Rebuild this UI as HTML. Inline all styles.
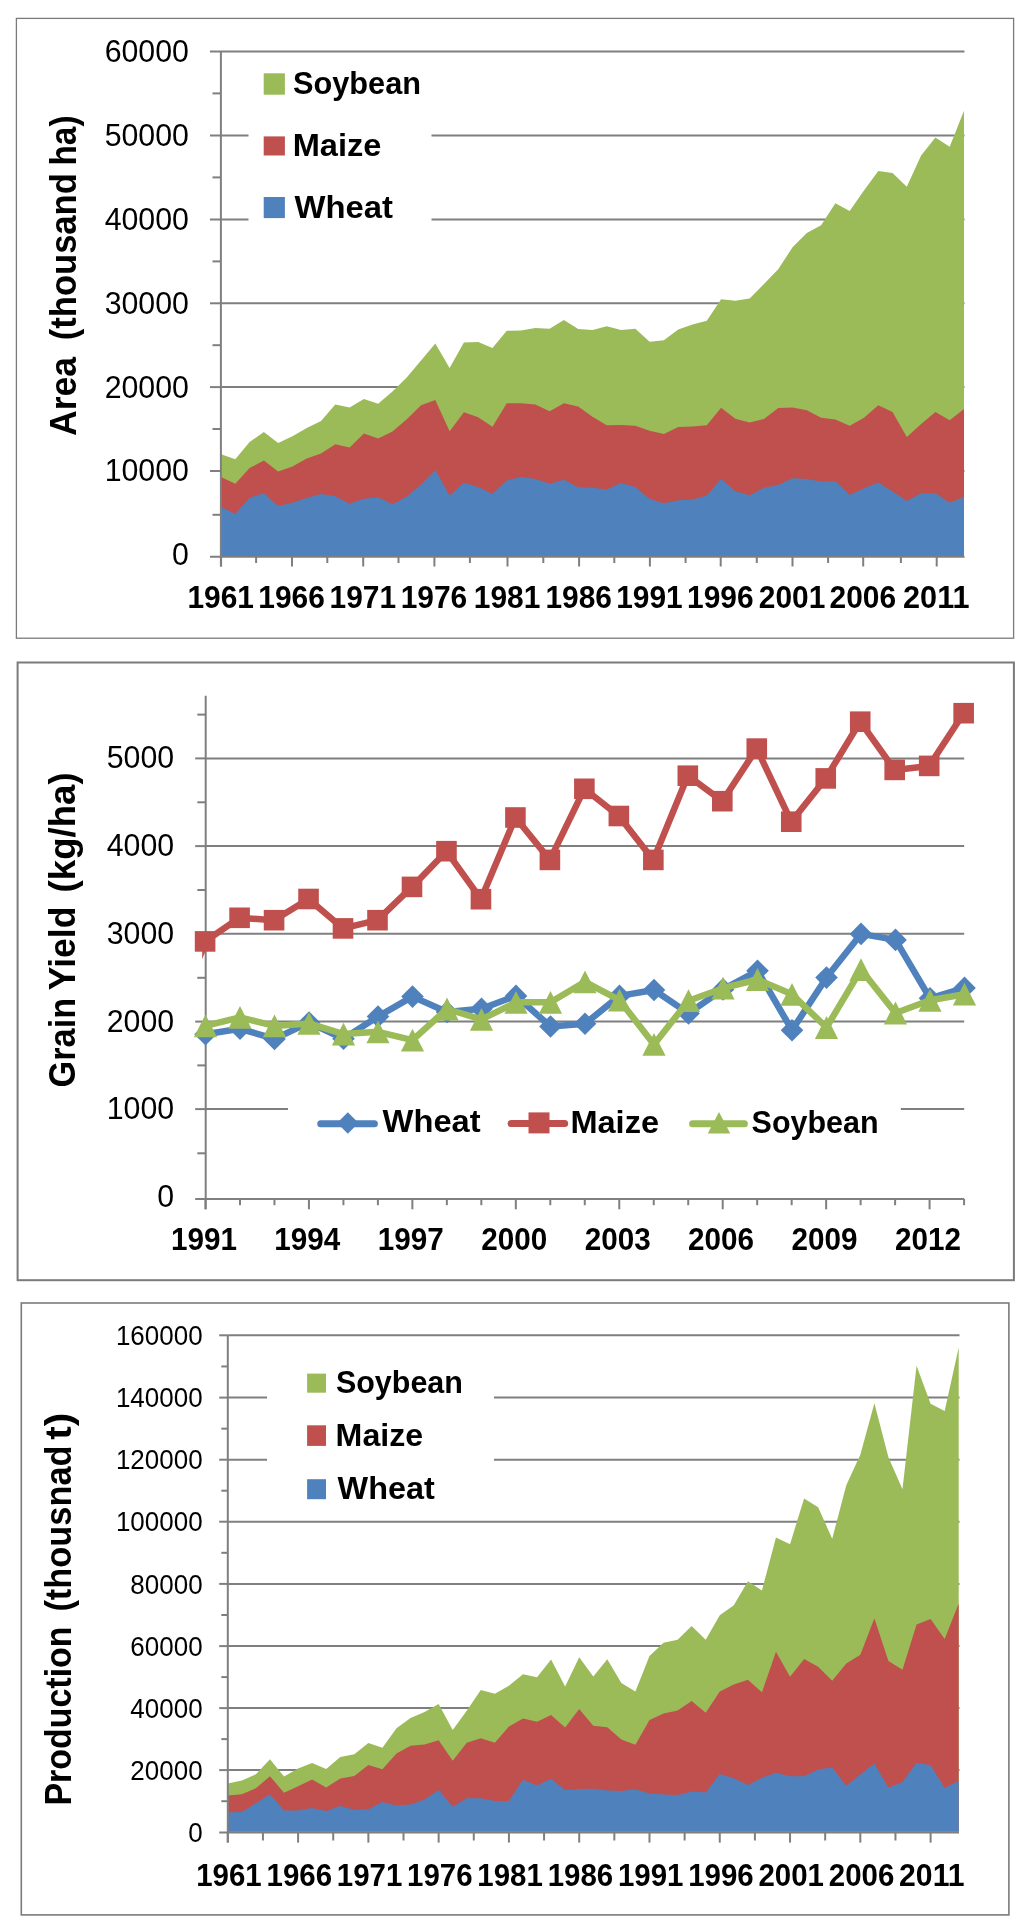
<!DOCTYPE html><html><head><meta charset="utf-8"><style>html,body{margin:0;padding:0;background:#fff;width:1024px;height:1928px;overflow:hidden}svg{display:block;will-change:transform}text{font-family:"Liberation Sans",sans-serif;fill:#000}</style></head><body>
<svg width="1024" height="1928" viewBox="0 0 1024 1928">
<rect x="0" y="0" width="1024" height="1928" fill="#fff"/>
<rect x="16.4" y="18.4" width="997.2" height="619.8" fill="none" stroke="#7b7b7b" stroke-width="1.3"/>
<line x1="221" y1="51.5" x2="964.5" y2="51.5" stroke="#7f7f7f" stroke-width="2" stroke-linecap="butt"/>
<line x1="221" y1="135.5" x2="964.5" y2="135.5" stroke="#7f7f7f" stroke-width="2" stroke-linecap="butt"/>
<line x1="221" y1="219.5" x2="964.5" y2="219.5" stroke="#7f7f7f" stroke-width="2" stroke-linecap="butt"/>
<line x1="221" y1="303.3" x2="964.5" y2="303.3" stroke="#7f7f7f" stroke-width="2" stroke-linecap="butt"/>
<line x1="221" y1="387.1" x2="964.5" y2="387.1" stroke="#7f7f7f" stroke-width="2" stroke-linecap="butt"/>
<line x1="221" y1="471" x2="964.5" y2="471" stroke="#7f7f7f" stroke-width="2" stroke-linecap="butt"/>
<rect x="248.5" y="60" width="183" height="172" fill="#fff"/>
<polygon fill="#9BBB59" points="221,556 221,454.2 235.29,459.2 249.58,442 263.86,432 278.15,443 292.44,436.2 306.73,428 321.02,420.9 335.3,404.5 349.59,407.6 363.88,398.9 378.17,403.8 392.46,391.5 406.74,377.5 421.03,360.5 435.32,343.5 449.61,367.9 463.9,342.5 478.18,341.9 492.47,348 506.76,330.7 521.05,330.5 535.34,327.9 549.62,328.8 563.91,320.1 578.2,329 592.49,329.9 606.78,326.2 621.06,330.1 635.35,328.7 649.64,341.7 663.93,340.2 678.22,329.5 692.5,324.6 706.79,320.8 721.08,299.3 735.37,300.7 749.66,298.6 763.94,284 778.23,269.2 792.52,247.3 806.81,232.9 821.1,225.3 835.38,203.3 849.67,210.9 863.96,190.5 878.25,171 892.54,173 906.82,186.7 921.11,155.6 935.4,137.4 949.69,146.8 963.98,110.8 963.98,556"/>
<polygon fill="#C0504D" points="221,556 221,476.9 235.29,483.7 249.58,468.1 263.86,460.5 278.15,471.6 292.44,466.5 306.73,458.5 321.02,453.4 335.3,444.3 349.59,447.5 363.88,433.4 378.17,438.4 392.46,431.6 406.74,419.3 421.03,405.2 435.32,400 449.61,431.3 463.9,412.2 478.18,417.3 492.47,426.8 506.76,403.3 521.05,403.3 535.34,404.6 549.62,411.2 563.91,403.3 578.2,406.4 592.49,416.7 606.78,425.3 621.06,424.9 635.35,425.8 649.64,430.7 663.93,434 678.22,426.9 692.5,426.6 706.79,425.3 721.08,407.8 735.37,418.7 749.66,422.5 763.94,419 778.23,408 792.52,407.5 806.81,410.2 821.1,417.8 835.38,419.5 849.67,425.7 863.96,417.8 878.25,405.2 892.54,411.9 906.82,436.9 921.11,424 935.4,412 949.69,420.3 963.98,409.1 963.98,556"/>
<polygon fill="#4F81BD" points="221,556 221,506.8 235.29,514.1 249.58,497.7 263.86,493.3 278.15,505.9 292.44,502.7 306.73,498 321.02,493.9 335.3,496.2 349.59,503.7 363.88,498.7 378.17,497.3 392.46,504.3 406.74,496.7 421.03,484.4 435.32,470.1 449.61,495.6 463.9,482.7 478.18,487.1 492.47,494.1 506.76,480.4 521.05,477 535.34,478.9 549.62,483.8 563.91,479.8 578.2,487.3 592.49,487.8 606.78,489.5 621.06,483 635.35,487.1 649.64,499.1 663.93,503.2 678.22,500.3 692.5,499.4 706.79,495.6 721.08,478.9 735.37,491.2 749.66,495.3 763.94,487.8 778.23,485 792.52,478.2 806.81,479.1 821.1,481.6 835.38,481.3 849.67,494.9 863.96,488.2 878.25,482.6 892.54,491.6 906.82,500.9 921.11,493.2 935.4,493.2 949.69,502.8 963.98,497 963.98,556"/>
<line x1="220.9" y1="51.5" x2="220.9" y2="566.5" stroke="#7f7f7f" stroke-width="2" stroke-linecap="butt"/>
<line x1="210" y1="556.8" x2="964.5" y2="556.8" stroke="#7f7f7f" stroke-width="2" stroke-linecap="butt"/>
<line x1="210" y1="51.5" x2="221" y2="51.5" stroke="#7f7f7f" stroke-width="2" stroke-linecap="butt"/>
<line x1="210" y1="135.5" x2="221" y2="135.5" stroke="#7f7f7f" stroke-width="2" stroke-linecap="butt"/>
<line x1="210" y1="219.5" x2="221" y2="219.5" stroke="#7f7f7f" stroke-width="2" stroke-linecap="butt"/>
<line x1="210" y1="303.3" x2="221" y2="303.3" stroke="#7f7f7f" stroke-width="2" stroke-linecap="butt"/>
<line x1="210" y1="387.1" x2="221" y2="387.1" stroke="#7f7f7f" stroke-width="2" stroke-linecap="butt"/>
<line x1="210" y1="471" x2="221" y2="471" stroke="#7f7f7f" stroke-width="2" stroke-linecap="butt"/>
<line x1="212.5" y1="93.4" x2="221" y2="93.4" stroke="#7f7f7f" stroke-width="2" stroke-linecap="butt"/>
<line x1="212.5" y1="177.4" x2="221" y2="177.4" stroke="#7f7f7f" stroke-width="2" stroke-linecap="butt"/>
<line x1="212.5" y1="261.4" x2="221" y2="261.4" stroke="#7f7f7f" stroke-width="2" stroke-linecap="butt"/>
<line x1="212.5" y1="345.2" x2="221" y2="345.2" stroke="#7f7f7f" stroke-width="2" stroke-linecap="butt"/>
<line x1="212.5" y1="429" x2="221" y2="429" stroke="#7f7f7f" stroke-width="2" stroke-linecap="butt"/>
<line x1="212.5" y1="514.8" x2="221" y2="514.8" stroke="#7f7f7f" stroke-width="2" stroke-linecap="butt"/>
<line x1="221.1" y1="556.8" x2="221.1" y2="566.5" stroke="#7f7f7f" stroke-width="2" stroke-linecap="butt"/>
<line x1="256.1" y1="556.8" x2="256.1" y2="563" stroke="#7f7f7f" stroke-width="2" stroke-linecap="butt"/>
<line x1="292" y1="556.8" x2="292" y2="566.5" stroke="#7f7f7f" stroke-width="2" stroke-linecap="butt"/>
<line x1="327.3" y1="556.8" x2="327.3" y2="563" stroke="#7f7f7f" stroke-width="2" stroke-linecap="butt"/>
<line x1="363.2" y1="556.8" x2="363.2" y2="566.5" stroke="#7f7f7f" stroke-width="2" stroke-linecap="butt"/>
<line x1="398.5" y1="556.8" x2="398.5" y2="563" stroke="#7f7f7f" stroke-width="2" stroke-linecap="butt"/>
<line x1="434.4" y1="556.8" x2="434.4" y2="566.5" stroke="#7f7f7f" stroke-width="2" stroke-linecap="butt"/>
<line x1="469.9" y1="556.8" x2="469.9" y2="563" stroke="#7f7f7f" stroke-width="2" stroke-linecap="butt"/>
<line x1="507.5" y1="556.8" x2="507.5" y2="566.5" stroke="#7f7f7f" stroke-width="2" stroke-linecap="butt"/>
<line x1="543.3" y1="556.8" x2="543.3" y2="563" stroke="#7f7f7f" stroke-width="2" stroke-linecap="butt"/>
<line x1="579.1" y1="556.8" x2="579.1" y2="566.5" stroke="#7f7f7f" stroke-width="2" stroke-linecap="butt"/>
<line x1="614.3" y1="556.8" x2="614.3" y2="563" stroke="#7f7f7f" stroke-width="2" stroke-linecap="butt"/>
<line x1="649.9" y1="556.8" x2="649.9" y2="566.5" stroke="#7f7f7f" stroke-width="2" stroke-linecap="butt"/>
<line x1="685.6" y1="556.8" x2="685.6" y2="563" stroke="#7f7f7f" stroke-width="2" stroke-linecap="butt"/>
<line x1="720.7" y1="556.8" x2="720.7" y2="566.5" stroke="#7f7f7f" stroke-width="2" stroke-linecap="butt"/>
<line x1="756.8" y1="556.8" x2="756.8" y2="563" stroke="#7f7f7f" stroke-width="2" stroke-linecap="butt"/>
<line x1="792.5" y1="556.8" x2="792.5" y2="566.5" stroke="#7f7f7f" stroke-width="2" stroke-linecap="butt"/>
<line x1="828.1" y1="556.8" x2="828.1" y2="563" stroke="#7f7f7f" stroke-width="2" stroke-linecap="butt"/>
<line x1="863.2" y1="556.8" x2="863.2" y2="566.5" stroke="#7f7f7f" stroke-width="2" stroke-linecap="butt"/>
<line x1="900.9" y1="556.8" x2="900.9" y2="563" stroke="#7f7f7f" stroke-width="2" stroke-linecap="butt"/>
<line x1="936.7" y1="556.8" x2="936.7" y2="566.5" stroke="#7f7f7f" stroke-width="2" stroke-linecap="butt"/>
<text x="188.9" y="62.1" font-size="31.5" text-anchor="end" textLength="84.25" lengthAdjust="spacingAndGlyphs">60000</text>
<text x="188.9" y="145.96" font-size="31.5" text-anchor="end" textLength="84.25" lengthAdjust="spacingAndGlyphs">50000</text>
<text x="188.9" y="229.82" font-size="31.5" text-anchor="end" textLength="84.25" lengthAdjust="spacingAndGlyphs">40000</text>
<text x="188.9" y="313.68" font-size="31.5" text-anchor="end" textLength="84.25" lengthAdjust="spacingAndGlyphs">30000</text>
<text x="188.9" y="397.54" font-size="31.5" text-anchor="end" textLength="84.25" lengthAdjust="spacingAndGlyphs">20000</text>
<text x="188.9" y="481.4" font-size="31.5" text-anchor="end" textLength="84.25" lengthAdjust="spacingAndGlyphs">10000</text>
<text x="188.9" y="565.26" font-size="31.5" text-anchor="end" textLength="16.85" lengthAdjust="spacingAndGlyphs">0</text>
<text x="220.7" y="608.4" font-size="31.5" font-weight="bold" text-anchor="middle" textLength="66.5" lengthAdjust="spacingAndGlyphs">1961</text>
<text x="291.6" y="608.4" font-size="31.5" font-weight="bold" text-anchor="middle" textLength="66.5" lengthAdjust="spacingAndGlyphs">1966</text>
<text x="362.8" y="608.4" font-size="31.5" font-weight="bold" text-anchor="middle" textLength="66.5" lengthAdjust="spacingAndGlyphs">1971</text>
<text x="434" y="608.4" font-size="31.5" font-weight="bold" text-anchor="middle" textLength="66.5" lengthAdjust="spacingAndGlyphs">1976</text>
<text x="507.1" y="608.4" font-size="31.5" font-weight="bold" text-anchor="middle" textLength="66.5" lengthAdjust="spacingAndGlyphs">1981</text>
<text x="578.7" y="608.4" font-size="31.5" font-weight="bold" text-anchor="middle" textLength="66.5" lengthAdjust="spacingAndGlyphs">1986</text>
<text x="649.5" y="608.4" font-size="31.5" font-weight="bold" text-anchor="middle" textLength="66.5" lengthAdjust="spacingAndGlyphs">1991</text>
<text x="720.3" y="608.4" font-size="31.5" font-weight="bold" text-anchor="middle" textLength="66.5" lengthAdjust="spacingAndGlyphs">1996</text>
<text x="792.1" y="608.4" font-size="31.5" font-weight="bold" text-anchor="middle" textLength="66.5" lengthAdjust="spacingAndGlyphs">2001</text>
<text x="862.8" y="608.4" font-size="31.5" font-weight="bold" text-anchor="middle" textLength="66.5" lengthAdjust="spacingAndGlyphs">2006</text>
<text x="936.3" y="608.4" font-size="31.5" font-weight="bold" text-anchor="middle" textLength="66.5" lengthAdjust="spacingAndGlyphs">2011</text>
<text transform="translate(76,436) rotate(-90)" x="0" y="0" font-size="36.5" font-weight="bold" textLength="79" lengthAdjust="spacingAndGlyphs">Area</text>
<text transform="translate(76,340.2) rotate(-90)" x="0" y="0" font-size="36.5" font-weight="bold" textLength="167" lengthAdjust="spacingAndGlyphs">(thousand</text>
<text transform="translate(76,165.5) rotate(-90)" x="0" y="0" font-size="36.5" font-weight="bold" textLength="50" lengthAdjust="spacingAndGlyphs">ha)</text>
<rect x="263.7" y="73.3" width="21.2" height="21.4" fill="#9BBB59"/>
<text x="293" y="94.1" font-size="32" font-weight="bold" text-anchor="start" textLength="128" lengthAdjust="spacingAndGlyphs">Soybean</text>
<rect x="263.7" y="136.4" width="21.2" height="19.1" fill="#C0504D"/>
<text x="292.7" y="155.6" font-size="32" font-weight="bold" text-anchor="start" textLength="88.8" lengthAdjust="spacingAndGlyphs">Maize</text>
<rect x="263.7" y="197" width="21.2" height="21.1" fill="#4F81BD"/>
<text x="294.5" y="217.5" font-size="32" font-weight="bold" text-anchor="start" textLength="98.4" lengthAdjust="spacingAndGlyphs">Wheat</text>
<rect x="17.6" y="662.5" width="996.3" height="617.7" fill="none" stroke="#7b7b7b" stroke-width="2"/>
<line x1="205.7" y1="758.4" x2="964.2" y2="758.4" stroke="#7f7f7f" stroke-width="2" stroke-linecap="butt"/>
<line x1="205.7" y1="846.1" x2="964.2" y2="846.1" stroke="#7f7f7f" stroke-width="2" stroke-linecap="butt"/>
<line x1="205.7" y1="933.8" x2="964.2" y2="933.8" stroke="#7f7f7f" stroke-width="2" stroke-linecap="butt"/>
<line x1="205.7" y1="1021.6" x2="964.2" y2="1021.6" stroke="#7f7f7f" stroke-width="2" stroke-linecap="butt"/>
<line x1="205.7" y1="1109.1" x2="964.2" y2="1109.1" stroke="#7f7f7f" stroke-width="2" stroke-linecap="butt"/>
<rect x="288" y="1098" width="612.8" height="50" fill="#fff"/>
<line x1="205.7" y1="695.8" x2="205.7" y2="1209.3" stroke="#7f7f7f" stroke-width="2" stroke-linecap="butt"/>
<line x1="195.2" y1="1199" x2="964.2" y2="1199" stroke="#7f7f7f" stroke-width="2" stroke-linecap="butt"/>
<line x1="195.2" y1="758.4" x2="205.7" y2="758.4" stroke="#7f7f7f" stroke-width="2" stroke-linecap="butt"/>
<line x1="195.2" y1="846.1" x2="205.7" y2="846.1" stroke="#7f7f7f" stroke-width="2" stroke-linecap="butt"/>
<line x1="195.2" y1="933.8" x2="205.7" y2="933.8" stroke="#7f7f7f" stroke-width="2" stroke-linecap="butt"/>
<line x1="195.2" y1="1021.6" x2="205.7" y2="1021.6" stroke="#7f7f7f" stroke-width="2" stroke-linecap="butt"/>
<line x1="195.2" y1="1109.1" x2="205.7" y2="1109.1" stroke="#7f7f7f" stroke-width="2" stroke-linecap="butt"/>
<line x1="197.3" y1="714.6" x2="205.7" y2="714.6" stroke="#7f7f7f" stroke-width="2" stroke-linecap="butt"/>
<line x1="197.3" y1="802.3" x2="205.7" y2="802.3" stroke="#7f7f7f" stroke-width="2" stroke-linecap="butt"/>
<line x1="197.3" y1="890" x2="205.7" y2="890" stroke="#7f7f7f" stroke-width="2" stroke-linecap="butt"/>
<line x1="197.3" y1="977.8" x2="205.7" y2="977.8" stroke="#7f7f7f" stroke-width="2" stroke-linecap="butt"/>
<line x1="197.3" y1="1065.4" x2="205.7" y2="1065.4" stroke="#7f7f7f" stroke-width="2" stroke-linecap="butt"/>
<line x1="197.3" y1="1153.3" x2="205.7" y2="1153.3" stroke="#7f7f7f" stroke-width="2" stroke-linecap="butt"/>
<line x1="205.5" y1="1199" x2="205.5" y2="1209.3" stroke="#7f7f7f" stroke-width="2" stroke-linecap="butt"/>
<line x1="239.98" y1="1199" x2="239.98" y2="1205.2" stroke="#7f7f7f" stroke-width="2" stroke-linecap="butt"/>
<line x1="274.46" y1="1199" x2="274.46" y2="1205.2" stroke="#7f7f7f" stroke-width="2" stroke-linecap="butt"/>
<line x1="308.94" y1="1199" x2="308.94" y2="1209.3" stroke="#7f7f7f" stroke-width="2" stroke-linecap="butt"/>
<line x1="343.42" y1="1199" x2="343.42" y2="1205.2" stroke="#7f7f7f" stroke-width="2" stroke-linecap="butt"/>
<line x1="377.9" y1="1199" x2="377.9" y2="1205.2" stroke="#7f7f7f" stroke-width="2" stroke-linecap="butt"/>
<line x1="412.38" y1="1199" x2="412.38" y2="1209.3" stroke="#7f7f7f" stroke-width="2" stroke-linecap="butt"/>
<line x1="446.86" y1="1199" x2="446.86" y2="1205.2" stroke="#7f7f7f" stroke-width="2" stroke-linecap="butt"/>
<line x1="481.34" y1="1199" x2="481.34" y2="1205.2" stroke="#7f7f7f" stroke-width="2" stroke-linecap="butt"/>
<line x1="515.82" y1="1199" x2="515.82" y2="1209.3" stroke="#7f7f7f" stroke-width="2" stroke-linecap="butt"/>
<line x1="550.3" y1="1199" x2="550.3" y2="1205.2" stroke="#7f7f7f" stroke-width="2" stroke-linecap="butt"/>
<line x1="584.78" y1="1199" x2="584.78" y2="1205.2" stroke="#7f7f7f" stroke-width="2" stroke-linecap="butt"/>
<line x1="619.26" y1="1199" x2="619.26" y2="1209.3" stroke="#7f7f7f" stroke-width="2" stroke-linecap="butt"/>
<line x1="653.74" y1="1199" x2="653.74" y2="1205.2" stroke="#7f7f7f" stroke-width="2" stroke-linecap="butt"/>
<line x1="688.22" y1="1199" x2="688.22" y2="1205.2" stroke="#7f7f7f" stroke-width="2" stroke-linecap="butt"/>
<line x1="722.7" y1="1199" x2="722.7" y2="1209.3" stroke="#7f7f7f" stroke-width="2" stroke-linecap="butt"/>
<line x1="757.18" y1="1199" x2="757.18" y2="1205.2" stroke="#7f7f7f" stroke-width="2" stroke-linecap="butt"/>
<line x1="791.66" y1="1199" x2="791.66" y2="1205.2" stroke="#7f7f7f" stroke-width="2" stroke-linecap="butt"/>
<line x1="826.14" y1="1199" x2="826.14" y2="1209.3" stroke="#7f7f7f" stroke-width="2" stroke-linecap="butt"/>
<line x1="860.62" y1="1199" x2="860.62" y2="1205.2" stroke="#7f7f7f" stroke-width="2" stroke-linecap="butt"/>
<line x1="895.1" y1="1199" x2="895.1" y2="1205.2" stroke="#7f7f7f" stroke-width="2" stroke-linecap="butt"/>
<line x1="929.58" y1="1199" x2="929.58" y2="1209.3" stroke="#7f7f7f" stroke-width="2" stroke-linecap="butt"/>
<line x1="964.06" y1="1199" x2="964.06" y2="1205.2" stroke="#7f7f7f" stroke-width="2" stroke-linecap="butt"/>
<text x="174.1" y="768.3" font-size="31.5" text-anchor="end" textLength="67.4" lengthAdjust="spacingAndGlyphs">5000</text>
<text x="174.1" y="856" font-size="31.5" text-anchor="end" textLength="67.4" lengthAdjust="spacingAndGlyphs">4000</text>
<text x="174.1" y="943.7" font-size="31.5" text-anchor="end" textLength="67.4" lengthAdjust="spacingAndGlyphs">3000</text>
<text x="174.1" y="1031.5" font-size="31.5" text-anchor="end" textLength="67.4" lengthAdjust="spacingAndGlyphs">2000</text>
<text x="174.1" y="1119" font-size="31.5" text-anchor="end" textLength="67.4" lengthAdjust="spacingAndGlyphs">1000</text>
<text x="174.1" y="1206.9" font-size="31.5" text-anchor="end" textLength="16.85" lengthAdjust="spacingAndGlyphs">0</text>
<text x="203.9" y="1250.3" font-size="31.5" font-weight="bold" text-anchor="middle" textLength="66" lengthAdjust="spacingAndGlyphs">1991</text>
<text x="307.34" y="1250.3" font-size="31.5" font-weight="bold" text-anchor="middle" textLength="66" lengthAdjust="spacingAndGlyphs">1994</text>
<text x="410.78" y="1250.3" font-size="31.5" font-weight="bold" text-anchor="middle" textLength="66" lengthAdjust="spacingAndGlyphs">1997</text>
<text x="514.22" y="1250.3" font-size="31.5" font-weight="bold" text-anchor="middle" textLength="66" lengthAdjust="spacingAndGlyphs">2000</text>
<text x="617.66" y="1250.3" font-size="31.5" font-weight="bold" text-anchor="middle" textLength="66" lengthAdjust="spacingAndGlyphs">2003</text>
<text x="721.1" y="1250.3" font-size="31.5" font-weight="bold" text-anchor="middle" textLength="66" lengthAdjust="spacingAndGlyphs">2006</text>
<text x="824.54" y="1250.3" font-size="31.5" font-weight="bold" text-anchor="middle" textLength="66" lengthAdjust="spacingAndGlyphs">2009</text>
<text x="927.98" y="1250.3" font-size="31.5" font-weight="bold" text-anchor="middle" textLength="66" lengthAdjust="spacingAndGlyphs">2012</text>
<text transform="translate(74.8,1087.4) rotate(-90)" x="0" y="0" font-size="36.5" font-weight="bold" textLength="89.5" lengthAdjust="spacingAndGlyphs">Grain</text>
<text transform="translate(74.8,990.2) rotate(-90)" x="0" y="0" font-size="36.5" font-weight="bold" textLength="83.6" lengthAdjust="spacingAndGlyphs">Yield</text>
<text transform="translate(74.8,892.4) rotate(-90)" x="0" y="0" font-size="36.5" font-weight="bold" textLength="120" lengthAdjust="spacingAndGlyphs">(kg/ha)</text>
<polyline points="205.5,1034.3 240,1028.8 274.5,1038.9 309,1022.6 343.5,1038.8 378,1016.5 412.5,996.6 447,1012 481.5,1008.8 516,995.9 550.5,1026.5 585,1023.8 619.5,995.9 654,990 688.5,1013.4 723,989.4 757.5,970.8 792,1030.2 826.5,977.6 861,933.9 895.5,939.9 930,998.3 964.5,987.9" fill="none" stroke="#4F81BD" stroke-width="6.5" stroke-linejoin="round" stroke-linecap="round"/>
<polygon fill="#4F81BD" points="205.5,1023 216.8,1034.3 205.5,1045.6 194.2,1034.3"/>
<polygon fill="#4F81BD" points="240,1017.5 251.3,1028.8 240,1040.1 228.7,1028.8"/>
<polygon fill="#4F81BD" points="274.5,1027.6 285.8,1038.9 274.5,1050.2 263.2,1038.9"/>
<polygon fill="#4F81BD" points="309,1011.3 320.3,1022.6 309,1033.9 297.7,1022.6"/>
<polygon fill="#4F81BD" points="343.5,1027.5 354.8,1038.8 343.5,1050.1 332.2,1038.8"/>
<polygon fill="#4F81BD" points="378,1005.2 389.3,1016.5 378,1027.8 366.7,1016.5"/>
<polygon fill="#4F81BD" points="412.5,985.3 423.8,996.6 412.5,1007.9 401.2,996.6"/>
<polygon fill="#4F81BD" points="447,1000.7 458.3,1012 447,1023.3 435.7,1012"/>
<polygon fill="#4F81BD" points="481.5,997.5 492.8,1008.8 481.5,1020.1 470.2,1008.8"/>
<polygon fill="#4F81BD" points="516,984.6 527.3,995.9 516,1007.2 504.7,995.9"/>
<polygon fill="#4F81BD" points="550.5,1015.2 561.8,1026.5 550.5,1037.8 539.2,1026.5"/>
<polygon fill="#4F81BD" points="585,1012.5 596.3,1023.8 585,1035.1 573.7,1023.8"/>
<polygon fill="#4F81BD" points="619.5,984.6 630.8,995.9 619.5,1007.2 608.2,995.9"/>
<polygon fill="#4F81BD" points="654,978.7 665.3,990 654,1001.3 642.7,990"/>
<polygon fill="#4F81BD" points="688.5,1002.1 699.8,1013.4 688.5,1024.7 677.2,1013.4"/>
<polygon fill="#4F81BD" points="723,978.1 734.3,989.4 723,1000.7 711.7,989.4"/>
<polygon fill="#4F81BD" points="757.5,959.5 768.8,970.8 757.5,982.1 746.2,970.8"/>
<polygon fill="#4F81BD" points="792,1018.9 803.3,1030.2 792,1041.5 780.7,1030.2"/>
<polygon fill="#4F81BD" points="826.5,966.3 837.8,977.6 826.5,988.9 815.2,977.6"/>
<polygon fill="#4F81BD" points="861,922.6 872.3,933.9 861,945.2 849.7,933.9"/>
<polygon fill="#4F81BD" points="895.5,928.6 906.8,939.9 895.5,951.2 884.2,939.9"/>
<polygon fill="#4F81BD" points="930,987 941.3,998.3 930,1009.6 918.7,998.3"/>
<polygon fill="#4F81BD" points="964.5,976.6 975.8,987.9 964.5,999.2 953.2,987.9"/>
<polyline points="205.1,941.4 239.58,917.8 274.06,920.2 308.54,899 343.02,928.4 377.5,920.2 411.98,886.9 446.46,851.2 480.94,899.2 515.42,817.5 549.9,859.9 584.38,788.8 618.86,816 653.34,859.9 687.82,775.7 722.3,801.2 756.78,748.6 791.26,821.7 825.74,778.4 860.22,721.7 894.7,769.9 929.18,765.9 963.66,713.2" fill="none" stroke="#C0504D" stroke-width="6.5" stroke-linejoin="round" stroke-linecap="round"/>
<polygon fill="#C0504D" points="202.2,951 205.6,951 202.1,959.3"/>
<rect x="194.8" y="931.1" width="20.6" height="20.6" fill="#C0504D"/>
<rect x="229.28" y="907.5" width="20.6" height="20.6" fill="#C0504D"/>
<rect x="263.76" y="909.9" width="20.6" height="20.6" fill="#C0504D"/>
<rect x="298.24" y="888.7" width="20.6" height="20.6" fill="#C0504D"/>
<rect x="332.72" y="918.1" width="20.6" height="20.6" fill="#C0504D"/>
<rect x="367.2" y="909.9" width="20.6" height="20.6" fill="#C0504D"/>
<rect x="401.68" y="876.6" width="20.6" height="20.6" fill="#C0504D"/>
<rect x="436.16" y="840.9" width="20.6" height="20.6" fill="#C0504D"/>
<rect x="470.64" y="888.9" width="20.6" height="20.6" fill="#C0504D"/>
<rect x="505.12" y="807.2" width="20.6" height="20.6" fill="#C0504D"/>
<rect x="539.6" y="849.6" width="20.6" height="20.6" fill="#C0504D"/>
<rect x="574.08" y="778.5" width="20.6" height="20.6" fill="#C0504D"/>
<rect x="608.56" y="805.7" width="20.6" height="20.6" fill="#C0504D"/>
<rect x="643.04" y="849.6" width="20.6" height="20.6" fill="#C0504D"/>
<rect x="677.52" y="765.4" width="20.6" height="20.6" fill="#C0504D"/>
<rect x="712" y="790.9" width="20.6" height="20.6" fill="#C0504D"/>
<rect x="746.48" y="738.3" width="20.6" height="20.6" fill="#C0504D"/>
<rect x="780.96" y="811.4" width="20.6" height="20.6" fill="#C0504D"/>
<rect x="815.44" y="768.1" width="20.6" height="20.6" fill="#C0504D"/>
<rect x="849.92" y="711.4" width="20.6" height="20.6" fill="#C0504D"/>
<rect x="884.4" y="759.6" width="20.6" height="20.6" fill="#C0504D"/>
<rect x="918.88" y="755.6" width="20.6" height="20.6" fill="#C0504D"/>
<rect x="953.36" y="702.9" width="20.6" height="20.6" fill="#C0504D"/>
<polyline points="205.5,1025.9 240,1017.3 274.5,1025.9 309,1023.4 343.5,1034.1 378,1031.8 412.5,1040.1 447,1009 481.5,1019.3 516,1002.3 550.5,1002.3 585,981.8 619.5,1000.2 654,1044.4 688.5,1000.7 723,988.2 757.5,979.5 792,994.3 826.5,1027.5 861,969.6 895.5,1013 930,1000.3 964.5,994.2" fill="none" stroke="#9BBB59" stroke-width="6.5" stroke-linejoin="round" stroke-linecap="round"/>
<polygon fill="#9BBB59" points="205.5,1014.5 217.1,1037.3 193.9,1037.3"/>
<polygon fill="#9BBB59" points="240,1005.9 251.6,1028.7 228.4,1028.7"/>
<polygon fill="#9BBB59" points="274.5,1014.5 286.1,1037.3 262.9,1037.3"/>
<polygon fill="#9BBB59" points="309,1012 320.6,1034.8 297.4,1034.8"/>
<polygon fill="#9BBB59" points="343.5,1022.7 355.1,1045.5 331.9,1045.5"/>
<polygon fill="#9BBB59" points="378,1020.4 389.6,1043.2 366.4,1043.2"/>
<polygon fill="#9BBB59" points="412.5,1028.7 424.1,1051.5 400.9,1051.5"/>
<polygon fill="#9BBB59" points="447,997.6 458.6,1020.4 435.4,1020.4"/>
<polygon fill="#9BBB59" points="481.5,1007.9 493.1,1030.7 469.9,1030.7"/>
<polygon fill="#9BBB59" points="516,990.9 527.6,1013.7 504.4,1013.7"/>
<polygon fill="#9BBB59" points="550.5,990.9 562.1,1013.7 538.9,1013.7"/>
<polygon fill="#9BBB59" points="585,970.4 596.6,993.2 573.4,993.2"/>
<polygon fill="#9BBB59" points="619.5,988.8 631.1,1011.6 607.9,1011.6"/>
<polygon fill="#9BBB59" points="654,1033 665.6,1055.8 642.4,1055.8"/>
<polygon fill="#9BBB59" points="688.5,989.3 700.1,1012.1 676.9,1012.1"/>
<polygon fill="#9BBB59" points="723,976.8 734.6,999.6 711.4,999.6"/>
<polygon fill="#9BBB59" points="757.5,968.1 769.1,990.9 745.9,990.9"/>
<polygon fill="#9BBB59" points="792,982.9 803.6,1005.7 780.4,1005.7"/>
<polygon fill="#9BBB59" points="826.5,1016.1 838.1,1038.9 814.9,1038.9"/>
<polygon fill="#9BBB59" points="861,958.2 872.6,981 849.4,981"/>
<polygon fill="#9BBB59" points="895.5,1001.6 907.1,1024.4 883.9,1024.4"/>
<polygon fill="#9BBB59" points="930,988.9 941.6,1011.7 918.4,1011.7"/>
<polygon fill="#9BBB59" points="964.5,982.8 976.1,1005.6 952.9,1005.6"/>
<line x1="320.7" y1="1123.7" x2="374.4" y2="1123.7" stroke="#4F81BD" stroke-width="7" stroke-linecap="round"/>
<polygon fill="#4F81BD" points="347.8,1112.25 358.55,1123 347.8,1133.75 337.05,1123"/>
<text x="382.6" y="1132.4" font-size="32" font-weight="bold" text-anchor="start" textLength="98" lengthAdjust="spacingAndGlyphs">Wheat</text>
<line x1="511.1" y1="1123.6" x2="564.7" y2="1123.6" stroke="#C0504D" stroke-width="7" stroke-linecap="round"/>
<rect x="528.5" y="1112.4" width="21" height="21" fill="#C0504D"/>
<text x="570.4" y="1132.6" font-size="32" font-weight="bold" text-anchor="start" textLength="88.6" lengthAdjust="spacingAndGlyphs">Maize</text>
<line x1="692.6" y1="1123.7" x2="744.4" y2="1123.7" stroke="#9BBB59" stroke-width="7" stroke-linecap="round"/>
<polygon fill="#9BBB59" points="719,1112 730.25,1133.4 707.75,1133.4"/>
<text x="751.6" y="1132.7" font-size="32" font-weight="bold" text-anchor="start" textLength="127" lengthAdjust="spacingAndGlyphs">Soybean</text>
<rect x="21.3" y="1303" width="987.6" height="611.9" fill="none" stroke="#7b7b7b" stroke-width="1.6"/>
<line x1="227.8" y1="1335.3" x2="959.5" y2="1335.3" stroke="#7f7f7f" stroke-width="2" stroke-linecap="butt"/>
<line x1="227.8" y1="1397.6" x2="959.5" y2="1397.6" stroke="#7f7f7f" stroke-width="2" stroke-linecap="butt"/>
<line x1="227.8" y1="1459.7" x2="959.5" y2="1459.7" stroke="#7f7f7f" stroke-width="2" stroke-linecap="butt"/>
<line x1="227.8" y1="1521.7" x2="959.5" y2="1521.7" stroke="#7f7f7f" stroke-width="2" stroke-linecap="butt"/>
<line x1="227.8" y1="1583.9" x2="959.5" y2="1583.9" stroke="#7f7f7f" stroke-width="2" stroke-linecap="butt"/>
<line x1="227.8" y1="1646.1" x2="959.5" y2="1646.1" stroke="#7f7f7f" stroke-width="2" stroke-linecap="butt"/>
<line x1="227.8" y1="1708.1" x2="959.5" y2="1708.1" stroke="#7f7f7f" stroke-width="2" stroke-linecap="butt"/>
<line x1="227.8" y1="1770.1" x2="959.5" y2="1770.1" stroke="#7f7f7f" stroke-width="2" stroke-linecap="butt"/>
<rect x="267" y="1345" width="227" height="165" fill="#fff"/>
<polygon fill="#9BBB59" points="227.8,1831.5 227.8,1783.4 241.86,1780.6 255.91,1774.3 269.97,1759.3 284.02,1776.6 298.08,1768.6 312.14,1762.9 326.19,1768.9 340.25,1757 354.3,1754.3 368.36,1743 382.42,1747.7 396.47,1728.3 410.53,1718 424.58,1711.9 438.64,1704.1 452.7,1730.1 466.75,1710.8 480.81,1689.9 494.86,1693.7 508.92,1685.8 522.98,1674.2 537.03,1677.2 551.09,1659.4 565.14,1686.5 579.2,1657.2 593.26,1676.4 607.31,1659.3 621.37,1683 635.42,1691.5 649.48,1655.9 663.54,1642.7 677.59,1639.8 691.65,1626 705.7,1639.8 719.76,1615.3 733.82,1605.2 747.87,1581.3 761.93,1590.6 775.98,1537.5 790.04,1544.2 804.1,1498.4 818.15,1507.3 832.21,1538.8 846.26,1485.3 860.32,1454.8 874.38,1403.3 888.43,1457.2 902.49,1489.2 916.54,1365.8 930.6,1403.8 944.66,1411.1 958.71,1347.5 958.71,1831.5"/>
<polygon fill="#C0504D" points="227.8,1831.5 227.8,1795.6 241.86,1794.3 255.91,1788.2 269.97,1776.2 284.02,1792.7 298.08,1786.3 312.14,1779.6 326.19,1787.6 340.25,1778.6 354.3,1776.1 368.36,1764.9 382.42,1769.3 396.47,1753.6 410.53,1745.8 424.58,1744.4 438.64,1740.3 452.7,1760.7 466.75,1742.7 480.81,1738.2 494.86,1742.8 508.92,1726.4 522.98,1718.6 537.03,1721.8 551.09,1714.9 565.14,1727.6 579.2,1709 593.26,1725.8 607.31,1727.2 621.37,1739.4 635.42,1744.8 649.48,1719.9 663.54,1713.5 677.59,1710.5 691.65,1700.9 705.7,1712.8 719.76,1691.6 733.82,1684.5 747.87,1679.8 761.93,1692.3 775.98,1651.7 790.04,1676.7 804.1,1659.1 818.15,1666.8 832.21,1680.7 846.26,1663.6 860.32,1654.7 874.38,1618.3 888.43,1660.9 902.49,1669.8 916.54,1624.5 930.6,1619.1 944.66,1639.1 958.71,1603.4 958.71,1831.5"/>
<polygon fill="#4F81BD" points="227.8,1831.5 227.8,1812.4 241.86,1812.1 255.91,1803.2 269.97,1794.3 284.02,1810.5 298.08,1810.5 312.14,1807.9 326.19,1811.1 340.25,1806 354.3,1809.8 368.36,1809.2 382.42,1802.1 396.47,1805.5 410.53,1804.6 424.58,1799.4 438.64,1790.1 452.7,1806.8 466.75,1798.2 480.81,1798.3 494.86,1801.1 508.92,1801.1 522.98,1779.7 537.03,1785.6 551.09,1778.8 565.14,1790 579.2,1789.1 593.26,1788.7 607.31,1790.6 621.37,1791.1 635.42,1789.2 649.48,1793.6 663.54,1794.6 677.59,1795 691.65,1791.6 705.7,1792.4 719.76,1774.1 733.82,1778.3 747.87,1785 761.93,1777.8 775.98,1772.8 790.04,1776.3 804.1,1776.3 818.15,1769.5 832.21,1767.6 846.26,1785.9 860.32,1774.5 874.38,1763.6 888.43,1787.8 902.49,1781.9 916.54,1762.8 930.6,1765.2 944.66,1788.1 958.71,1780.8 958.71,1831.5"/>
<line x1="227.8" y1="1335.3" x2="227.8" y2="1842.6" stroke="#7f7f7f" stroke-width="2" stroke-linecap="butt"/>
<line x1="219.2" y1="1832.6" x2="959" y2="1832.6" stroke="#7f7f7f" stroke-width="2" stroke-linecap="butt"/>
<line x1="219.2" y1="1335.3" x2="227.8" y2="1335.3" stroke="#7f7f7f" stroke-width="2" stroke-linecap="butt"/>
<line x1="219.2" y1="1397.6" x2="227.8" y2="1397.6" stroke="#7f7f7f" stroke-width="2" stroke-linecap="butt"/>
<line x1="219.2" y1="1459.7" x2="227.8" y2="1459.7" stroke="#7f7f7f" stroke-width="2" stroke-linecap="butt"/>
<line x1="219.2" y1="1521.7" x2="227.8" y2="1521.7" stroke="#7f7f7f" stroke-width="2" stroke-linecap="butt"/>
<line x1="219.2" y1="1583.9" x2="227.8" y2="1583.9" stroke="#7f7f7f" stroke-width="2" stroke-linecap="butt"/>
<line x1="219.2" y1="1646.1" x2="227.8" y2="1646.1" stroke="#7f7f7f" stroke-width="2" stroke-linecap="butt"/>
<line x1="219.2" y1="1708.1" x2="227.8" y2="1708.1" stroke="#7f7f7f" stroke-width="2" stroke-linecap="butt"/>
<line x1="219.2" y1="1770.1" x2="227.8" y2="1770.1" stroke="#7f7f7f" stroke-width="2" stroke-linecap="butt"/>
<line x1="221.3" y1="1366.45" x2="227.8" y2="1366.45" stroke="#7f7f7f" stroke-width="2" stroke-linecap="butt"/>
<line x1="221.3" y1="1428.65" x2="227.8" y2="1428.65" stroke="#7f7f7f" stroke-width="2" stroke-linecap="butt"/>
<line x1="221.3" y1="1490.7" x2="227.8" y2="1490.7" stroke="#7f7f7f" stroke-width="2" stroke-linecap="butt"/>
<line x1="221.3" y1="1552.8" x2="227.8" y2="1552.8" stroke="#7f7f7f" stroke-width="2" stroke-linecap="butt"/>
<line x1="221.3" y1="1615" x2="227.8" y2="1615" stroke="#7f7f7f" stroke-width="2" stroke-linecap="butt"/>
<line x1="221.3" y1="1677.1" x2="227.8" y2="1677.1" stroke="#7f7f7f" stroke-width="2" stroke-linecap="butt"/>
<line x1="221.3" y1="1739.1" x2="227.8" y2="1739.1" stroke="#7f7f7f" stroke-width="2" stroke-linecap="butt"/>
<line x1="221.3" y1="1801.2" x2="227.8" y2="1801.2" stroke="#7f7f7f" stroke-width="2" stroke-linecap="butt"/>
<line x1="227.8" y1="1832.3" x2="227.8" y2="1842.6" stroke="#7f7f7f" stroke-width="2" stroke-linecap="butt"/>
<line x1="262.94" y1="1832.3" x2="262.94" y2="1840.5" stroke="#7f7f7f" stroke-width="2" stroke-linecap="butt"/>
<line x1="298.08" y1="1832.3" x2="298.08" y2="1842.6" stroke="#7f7f7f" stroke-width="2" stroke-linecap="butt"/>
<line x1="333.22" y1="1832.3" x2="333.22" y2="1840.5" stroke="#7f7f7f" stroke-width="2" stroke-linecap="butt"/>
<line x1="368.36" y1="1832.3" x2="368.36" y2="1842.6" stroke="#7f7f7f" stroke-width="2" stroke-linecap="butt"/>
<line x1="403.5" y1="1832.3" x2="403.5" y2="1840.5" stroke="#7f7f7f" stroke-width="2" stroke-linecap="butt"/>
<line x1="438.64" y1="1832.3" x2="438.64" y2="1842.6" stroke="#7f7f7f" stroke-width="2" stroke-linecap="butt"/>
<line x1="473.78" y1="1832.3" x2="473.78" y2="1840.5" stroke="#7f7f7f" stroke-width="2" stroke-linecap="butt"/>
<line x1="508.92" y1="1832.3" x2="508.92" y2="1842.6" stroke="#7f7f7f" stroke-width="2" stroke-linecap="butt"/>
<line x1="544.06" y1="1832.3" x2="544.06" y2="1840.5" stroke="#7f7f7f" stroke-width="2" stroke-linecap="butt"/>
<line x1="579.2" y1="1832.3" x2="579.2" y2="1842.6" stroke="#7f7f7f" stroke-width="2" stroke-linecap="butt"/>
<line x1="614.34" y1="1832.3" x2="614.34" y2="1840.5" stroke="#7f7f7f" stroke-width="2" stroke-linecap="butt"/>
<line x1="649.48" y1="1832.3" x2="649.48" y2="1842.6" stroke="#7f7f7f" stroke-width="2" stroke-linecap="butt"/>
<line x1="684.62" y1="1832.3" x2="684.62" y2="1840.5" stroke="#7f7f7f" stroke-width="2" stroke-linecap="butt"/>
<line x1="719.76" y1="1832.3" x2="719.76" y2="1842.6" stroke="#7f7f7f" stroke-width="2" stroke-linecap="butt"/>
<line x1="754.9" y1="1832.3" x2="754.9" y2="1840.5" stroke="#7f7f7f" stroke-width="2" stroke-linecap="butt"/>
<line x1="790.04" y1="1832.3" x2="790.04" y2="1842.6" stroke="#7f7f7f" stroke-width="2" stroke-linecap="butt"/>
<line x1="825.18" y1="1832.3" x2="825.18" y2="1840.5" stroke="#7f7f7f" stroke-width="2" stroke-linecap="butt"/>
<line x1="860.32" y1="1832.3" x2="860.32" y2="1842.6" stroke="#7f7f7f" stroke-width="2" stroke-linecap="butt"/>
<line x1="895.46" y1="1832.3" x2="895.46" y2="1840.5" stroke="#7f7f7f" stroke-width="2" stroke-linecap="butt"/>
<line x1="930.6" y1="1832.3" x2="930.6" y2="1842.6" stroke="#7f7f7f" stroke-width="2" stroke-linecap="butt"/>
<text x="202.6" y="1344.9" font-size="27.5" text-anchor="end" textLength="86.7" lengthAdjust="spacingAndGlyphs">160000</text>
<text x="202.6" y="1407.2" font-size="27.5" text-anchor="end" textLength="86.7" lengthAdjust="spacingAndGlyphs">140000</text>
<text x="202.6" y="1469.3" font-size="27.5" text-anchor="end" textLength="86.7" lengthAdjust="spacingAndGlyphs">120000</text>
<text x="202.6" y="1531.3" font-size="27.5" text-anchor="end" textLength="86.7" lengthAdjust="spacingAndGlyphs">100000</text>
<text x="202.6" y="1593.5" font-size="27.5" text-anchor="end" textLength="72.25" lengthAdjust="spacingAndGlyphs">80000</text>
<text x="202.6" y="1655.7" font-size="27.5" text-anchor="end" textLength="72.25" lengthAdjust="spacingAndGlyphs">60000</text>
<text x="202.6" y="1717.7" font-size="27.5" text-anchor="end" textLength="72.25" lengthAdjust="spacingAndGlyphs">40000</text>
<text x="202.6" y="1779.7" font-size="27.5" text-anchor="end" textLength="72.25" lengthAdjust="spacingAndGlyphs">20000</text>
<text x="202.6" y="1841.9" font-size="27.5" text-anchor="end" textLength="14.45" lengthAdjust="spacingAndGlyphs">0</text>
<text x="229" y="1885.8" font-size="31.5" font-weight="bold" text-anchor="middle" textLength="65.5" lengthAdjust="spacingAndGlyphs">1961</text>
<text x="299.28" y="1885.8" font-size="31.5" font-weight="bold" text-anchor="middle" textLength="65.5" lengthAdjust="spacingAndGlyphs">1966</text>
<text x="369.56" y="1885.8" font-size="31.5" font-weight="bold" text-anchor="middle" textLength="65.5" lengthAdjust="spacingAndGlyphs">1971</text>
<text x="439.84" y="1885.8" font-size="31.5" font-weight="bold" text-anchor="middle" textLength="65.5" lengthAdjust="spacingAndGlyphs">1976</text>
<text x="510.12" y="1885.8" font-size="31.5" font-weight="bold" text-anchor="middle" textLength="65.5" lengthAdjust="spacingAndGlyphs">1981</text>
<text x="580.4" y="1885.8" font-size="31.5" font-weight="bold" text-anchor="middle" textLength="65.5" lengthAdjust="spacingAndGlyphs">1986</text>
<text x="650.68" y="1885.8" font-size="31.5" font-weight="bold" text-anchor="middle" textLength="65.5" lengthAdjust="spacingAndGlyphs">1991</text>
<text x="720.96" y="1885.8" font-size="31.5" font-weight="bold" text-anchor="middle" textLength="65.5" lengthAdjust="spacingAndGlyphs">1996</text>
<text x="791.24" y="1885.8" font-size="31.5" font-weight="bold" text-anchor="middle" textLength="65.5" lengthAdjust="spacingAndGlyphs">2001</text>
<text x="861.52" y="1885.8" font-size="31.5" font-weight="bold" text-anchor="middle" textLength="65.5" lengthAdjust="spacingAndGlyphs">2006</text>
<text x="931.8" y="1885.8" font-size="31.5" font-weight="bold" text-anchor="middle" textLength="65.5" lengthAdjust="spacingAndGlyphs">2011</text>
<text transform="translate(70.6,1805.5) rotate(-90)" x="0" y="0" font-size="36.5" font-weight="bold" textLength="179" lengthAdjust="spacingAndGlyphs">Production</text>
<text transform="translate(70.6,1611.6) rotate(-90)" x="0" y="0" font-size="36.5" font-weight="bold" textLength="166.1" lengthAdjust="spacingAndGlyphs">(thousnad</text>
<text transform="translate(70.6,1439.8) rotate(-90)" x="0" y="0" font-size="36.5" font-weight="bold" textLength="27.2" lengthAdjust="spacingAndGlyphs">t)</text>
<rect x="307.1" y="1373.6" width="18.9" height="19.1" fill="#9BBB59"/>
<text x="335.9" y="1393.1" font-size="32" font-weight="bold" text-anchor="start" textLength="127" lengthAdjust="spacingAndGlyphs">Soybean</text>
<rect x="307.1" y="1425.3" width="18.9" height="20.6" fill="#C0504D"/>
<text x="335.6" y="1445.8" font-size="32" font-weight="bold" text-anchor="start" textLength="87.6" lengthAdjust="spacingAndGlyphs">Maize</text>
<rect x="307.1" y="1479.2" width="18.9" height="20" fill="#4F81BD"/>
<text x="337.6" y="1498.6" font-size="32" font-weight="bold" text-anchor="start" textLength="97.2" lengthAdjust="spacingAndGlyphs">Wheat</text>
</svg></body></html>
